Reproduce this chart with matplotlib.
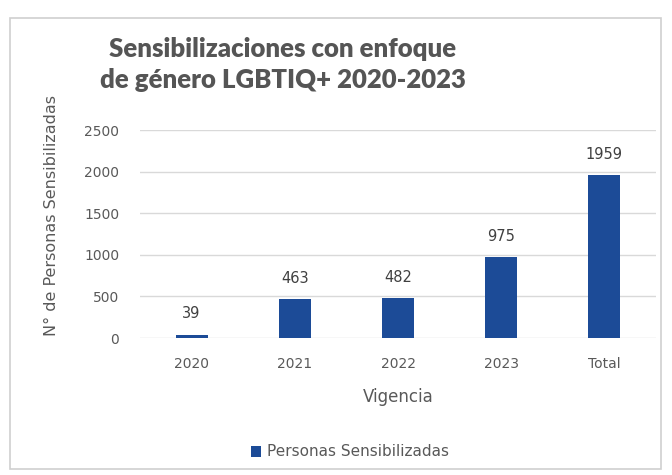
import matplotlib.pyplot as plt
from matplotlib.patches import Rectangle

# data
categorias = ['2020', '2021', '2022', '2023', 'Total']
personas = [39, 463, 482, 975, 1959]
serie = 'Personas Sensibilizadas'

W, H = 672, 475
fig = plt.figure(figsize=(W / 100, H / 100), dpi=100)
fig.patch.set_facecolor('white')

# light frame around the chart area
fig.patches.append(Rectangle((10 / W, 6 / H), 651 / W, 451 / H, transform=fig.transFigure,
                             fill=False, edgecolor='#cfcfcf', linewidth=1.2))

ax = fig.add_axes([140 / W, 1 - 338 / H, 516 / W, (338 - 130) / H])
bars = ax.bar(categorias, personas, width=0.31, color='#1C4B97', label=serie, zorder=3)

ax.set_ylim(0, 2500)
ax.set_yticks(range(0, 2501, 500))
ax.set_xlim(-0.5, len(categorias) - 0.5)
ax.grid(axis='y', color='#d9d9d9', linewidth=1, zorder=0)
for s in ax.spines.values():
    s.set_visible(False)
ax.tick_params(length=0, labelsize=10, labelcolor='#595959')
ax.tick_params(axis='y', pad=15)
ax.tick_params(axis='x', pad=14)

for b, v in zip(bars, personas):
    ax.annotate(str(v), (b.get_x() + b.get_width() / 2, v), xytext=(0, 15),
                textcoords='offset points', ha='center', va='center',
                fontsize=10.5, color='#404040')

ax.set_xlabel('Vigencia', fontsize=12, color='#595959')
ax.xaxis.label.set_va('center')
ax.xaxis.set_label_coords(0.5, (338 - 397) / 208)
ax.set_ylabel('N° de Personas Sensibilizadas', fontsize=11.5, color='#595959')
ax.yaxis.label.set_va('center')
ax.yaxis.set_label_coords((52 - 140) / 516, (338 - 215) / 208)

fig.text(283 / W, 1 - 49 / H, 'Sensibilizaciones con enfoque', ha='center', va='center',
         fontsize=18.5, fontweight='heavy', color='#555555', family='Lato')
fig.text(283 / W, 1 - 80 / H, 'de género LGBTIQ+ 2020-2023', ha='center', va='center',
         fontsize=18.5, fontweight='heavy', color='#555555', family='Lato')

fig.legend(loc='center', bbox_to_anchor=(350 / W, 1 - 452 / H), frameon=False, fontsize=11,
           labelcolor='#595959', handlelength=0.7, handleheight=0.7, handletextpad=0.4)

fig.savefig('out.png', dpi=100)
